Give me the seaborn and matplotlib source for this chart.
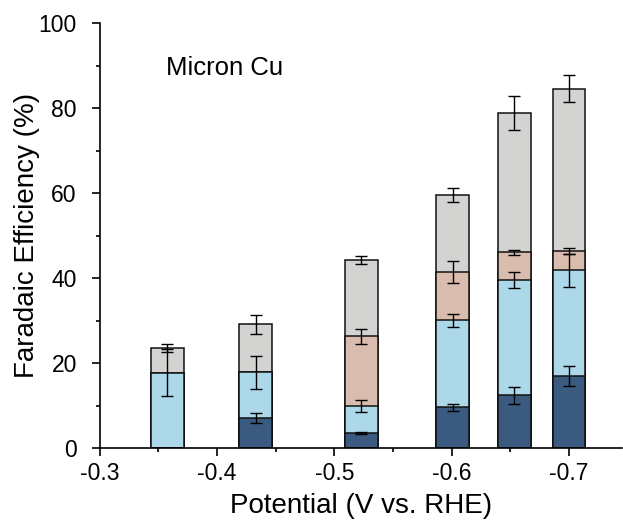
import numpy as np
import pandas as pd
import matplotlib
matplotlib.use("Agg")
import matplotlib.pyplot as plt
import seaborn as sns

# ---- data ----
potentials = [-0.3575, -0.433, -0.523, -0.601, -0.6535, -0.700]
seg_dark = [0.0, 7.2, 3.7, 9.7, 12.5, 17.05]
seg_light = [17.8, 10.7, 6.3, 20.4, 27.1, 24.85]
seg_brown = [0.0, 0.0, 16.4, 11.5, 6.5, 4.6]
seg_gray = [5.8, 11.3, 17.9, 17.9, 32.8, 38.1]
err_dark = [0.0, 1.2, 0.2, 0.8, 2.0, 2.3]
err_light = [5.5, 3.8, 1.4, 1.6, 1.9, 3.9]
err_brown = [0.0, 0.0, 1.75, 2.6, 0.65, 0.7]
err_gray = [0.9, 2.3, 0.95, 1.65, 4.0, 3.15]
xticks = [-0.3, -0.4, -0.5, -0.6, -0.7]
yticks = [0, 20, 40, 60, 80, 100]
label_text = "Micron Cu"

# ---- style ----
sns.set_style("ticks")
plt.rcParams['font.family'] = ['Liberation Sans', 'DejaVu Sans']
plt.rcParams['text.color'] = 'black'
plt.rcParams['axes.labelcolor'] = 'black'
plt.rcParams['xtick.color'] = 'black'
plt.rcParams['ytick.color'] = 'black'
plt.rcParams['xtick.labelcolor'] = 'black'
plt.rcParams['ytick.labelcolor'] = 'black'

colors = ['#3b5a80', '#acd8ea', '#d9bcae', '#d3d3d1']
BAR_W = 0.028

fig = plt.figure(figsize=(6.23, 5.28), dpi=100)
ax = fig.add_axes([0.16, 0.1506, 0.838, 0.8054])

segs = [seg_dark, seg_light, seg_brown, seg_gray]
errs = [err_dark, err_light, err_brown, err_gray]
cums = np.cumsum(np.array(segs, dtype=float), axis=0)

spacing = np.min(np.diff(np.sort(potentials)))
width = BAR_W / spacing

# draw cumulative layers from the tallest (top) down
for i in range(3, -1, -1):
    df = pd.DataFrame({'x': potentials, 'y': cums[i]})
    sns.barplot(data=df, x='x', y='y', native_scale=True, width=width,
                color=colors[i], saturation=1, edgecolor='#111111',
                linewidth=1.1, errorbar=None, ax=ax)

# error bars at the top of each non-empty segment
for i in range(4):
    seg = np.array(segs[i])
    mask = seg > 0
    x = np.array(potentials)[mask]
    ax.errorbar(x, cums[i][mask], yerr=np.array(errs[i])[mask], fmt='none',
                ecolor='black', elinewidth=1.0, capsize=4.0, capthick=1.0,
                zorder=5)

ax.set_xlim(-0.3, -0.745)
ax.set_ylim(0, 100)
ax.set_xticks(xticks)
ax.set_xticklabels([f"{t:.1f}" for t in xticks])
ax.set_yticks(yticks)
ax.set_xticks(np.arange(-0.35, -0.75, -0.1), minor=True)
ax.set_yticks(np.arange(10, 100, 20), minor=True)

sns.despine(ax=ax)
for s in ['left', 'bottom']:
    ax.spines[s].set_linewidth(1.2)
    ax.spines[s].set_color('black')
ax.tick_params(which='major', length=6, width=1.2, labelsize=16.5, color='black',
               labelcolor='black', direction='out')
ax.tick_params(which='minor', length=3, width=1.2, color='black', direction='out')
ax.tick_params(axis='y', which='major', pad=10.5)

ax.set_xlabel("Potential (V vs. RHE)", fontsize=20, labelpad=6, color='black')
ax.set_ylabel("Faradaic Efficiency (%)", fontsize=20, labelpad=-1, color='black')

ax.text(-0.3567, 87.8, label_text, fontsize=18.5, ha='left', va='baseline', color='black')

fig.savefig("out.png", dpi=100)
